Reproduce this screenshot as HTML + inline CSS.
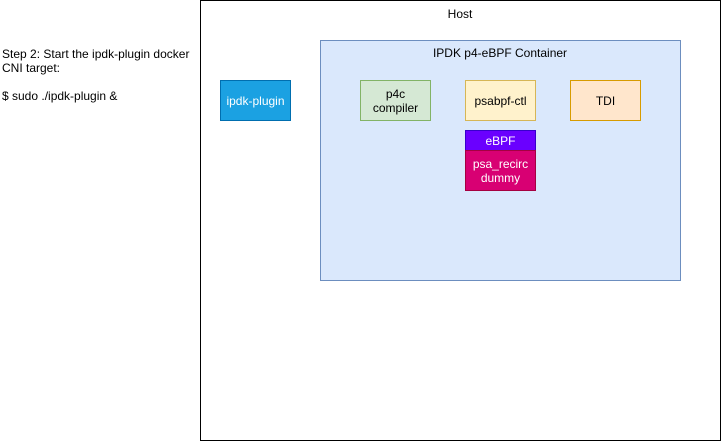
<!DOCTYPE html>
<html><head><style>
body{margin:0;width:721px;height:441px;background:#fff;font-family:"Liberation Sans",Arial,sans-serif;position:relative;overflow:hidden}
.b{position:absolute;box-sizing:border-box;display:flex;align-items:center;justify-content:center;text-align:center;font-size:12px;line-height:14px}
.t{position:absolute;font-size:12px;color:#000}
</style></head><body>
<div class="b" style="left:200px;top:0;width:521px;height:441px;border:1px solid #000"></div>
<div class="t" style="left:200px;width:520px;top:7px;text-align:center">Host</div>
<div class="b" style="left:320px;top:40px;width:361px;height:241px;background:#dae8fc;border:1px solid #6c8ebf"></div>
<div class="t" style="left:320px;width:360px;top:46px;text-align:center">IPDK p4-eBPF Container</div>
<div class="b" style="left:220px;top:80px;width:71px;height:41px;background:#1ba1e2;border:1px solid #006eaf;color:#fff">ipdk-plugin</div>
<div class="b" style="left:360px;top:80px;width:71px;height:41px;background:#d5e8d4;border:1px solid #82b366">p4c<br>compiler</div>
<div class="b" style="left:465px;top:80px;width:71px;height:41px;background:#fff2cc;border:1px solid #d6b656">psabpf-ctl</div>
<div class="b" style="left:570px;top:80px;width:71px;height:41px;background:#ffe6cc;border:1px solid #d79b00">TDI</div>
<div class="b" style="left:465px;top:130px;width:71px;height:21px;background:#6a00ff;border:1px solid #3700cc;color:#fff">eBPF</div>
<div class="b" style="left:465px;top:150px;width:71px;height:41px;background:#d80073;border:1px solid #a50040;color:#fff">psa_recirc<br>dummy</div>
<div class="t" style="left:2px;top:47px;line-height:14px;width:196px">Step 2: Start the ipdk-plugin docker CNI target:<br><br>$ sudo ./ipdk-plugin &amp;</div>
</body></html>
